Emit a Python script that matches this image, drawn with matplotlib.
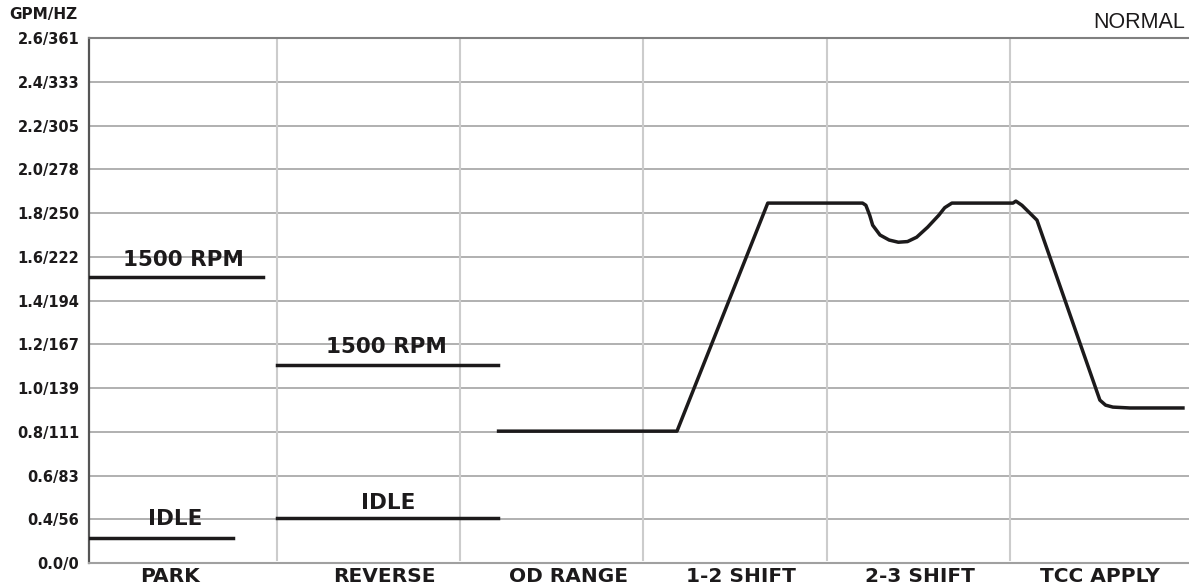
# Converter clutch / shift pressure trace, GPM/HZ vs operating mode

import matplotlib.pyplot as plt

# category bands (x in band units, gridlines between bands)
categories = ['PARK', 'REVERSE', 'OD RANGE', '1-2 SHIFT', '2-3 SHIFT', 'TCC APPLY']
cat_pos = [0.42, 1.59, 2.59, 3.53, 4.51, 5.49]
band_edges = [1, 2, 3, 4, 5]

# y ticks (bottom row is labelled 0.0/0)
ytick_pos = [0.2, 0.4, 0.6, 0.8, 1.0, 1.2, 1.4, 1.6, 1.8, 2.0, 2.2, 2.4, 2.6]
ytick_labels = ['0.0/0', '0.4/56', '0.6/83', '0.8/111', '1.0/139', '1.2/167',
                '1.4/194', '1.6/222', '1.8/250', '2.0/278', '2.2/305',
                '2.4/333', '2.6/361']

# step levels
park_rpm_x = [-0.03, 0.925]
park_rpm_y = [1.507, 1.507]
park_idle_x = [-0.03, 0.762]
park_idle_y = [0.314, 0.314]
rev_rpm_x = [1.0, 2.205]
rev_rpm_y = [1.105, 1.105]
rev_idle_x = [1.0, 2.205]
rev_idle_y = [0.405, 0.405]

# drive trace: OD range -> shifts -> TCC apply
drive_x = [2.21, 3.183, 3.678, 4.195, 4.213, 4.234, 4.25, 4.29, 4.34, 4.39,
           4.44, 4.49, 4.55, 4.61, 4.643, 4.682, 5.015, 5.031, 5.064, 5.146,
           5.489, 5.52, 5.56, 5.653, 5.942]
drive_y = [0.803, 0.803, 1.846, 1.846, 1.836, 1.79, 1.745, 1.70, 1.677, 1.667,
           1.67, 1.69, 1.736, 1.79, 1.825, 1.846, 1.846, 1.855, 1.836, 1.768,
           0.945, 0.922, 0.913, 0.909, 0.909]

line_col = '#1c1a1b'
fig = plt.figure(figsize=(11.89, 5.88), dpi=100)
ax = fig.add_axes([0.0749, 0.0425, 0.9251, 0.8925])

ax.set_xlim(-0.023, 5.975)
ax.set_ylim(0.2, 2.6)

for y in ytick_pos[1:-1]:
    ax.axhline(y, color='#a3a3a3', lw=1.2, zorder=1)
for x in band_edges:
    ax.axvline(x, ymin=0.005, ymax=1, color='#cccccc', lw=1.5, zorder=1)

for xs, ys in [(park_rpm_x, park_rpm_y), (park_idle_x, park_idle_y),
               (rev_rpm_x, rev_rpm_y), (rev_idle_x, rev_idle_y),
               (drive_x, drive_y)]:
    ax.plot(xs, ys, color=line_col, lw=2.5, solid_joinstyle='round', zorder=3)

txt = dict(ha='center', va='bottom', fontsize=15.5, fontweight='heavy', color=line_col)
ax.text(0.49, 1.54, '1500 RPM', **txt)
ax.text(0.446, 0.355, 'IDLE', **txt)
ax.text(1.60, 1.14, '1500 RPM', **txt)
ax.text(1.61, 0.43, 'IDLE', **txt)

ax.spines['right'].set_visible(False)
ax.spines['left'].set_color('#555555')
ax.spines['left'].set_linewidth(1.6)
ax.spines['top'].set_color('#808080')
ax.spines['top'].set_linewidth(1.5)
ax.spines['bottom'].set_color('#a0a0a0')
ax.spines['bottom'].set_linewidth(1.5)

ax.set_yticks(ytick_pos)
ax.set_yticklabels(ytick_labels, fontsize=10.5, fontweight='heavy', color=line_col)
ax.set_xticks(cat_pos)
ax.set_xticklabels(categories, fontsize=14.5, fontweight='heavy', color=line_col)
ax.tick_params(axis='both', length=0)
ax.tick_params(axis='y', pad=7)
ax.tick_params(axis='x', pad=3)

fig.text(0.008, 0.975, 'GPM/HZ', fontsize=11, fontweight='heavy', color=line_col,
         ha='left', va='center')
fig.text(0.997, 0.962, 'NORMAL', fontsize=15.5, family='Liberation Sans',
         color=line_col, ha='right', va='center')

fig.savefig('out.png', dpi=100)
